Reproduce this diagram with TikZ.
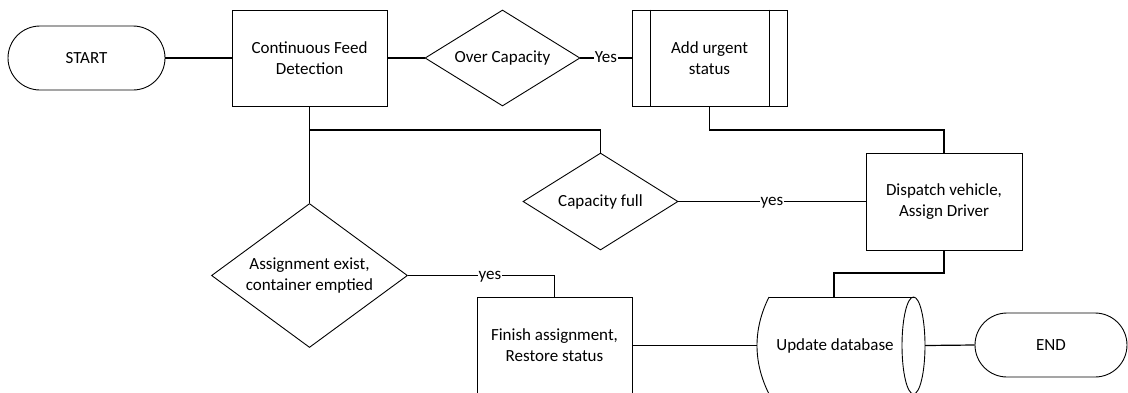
\documentclass[tikz,border=0pt]{standalone}
\usepackage{fontspec}
\setmainfont{Carlito}
\usetikzlibrary{shapes.geometric}
\begin{document}
\begin{tikzpicture}[x=1pt,y=-1pt,
  every node/.style={font=\fontsize{17}{21}\selectfont, align=center, inner sep=0pt},
  shapeline/.style={draw=black, line width=0.9pt},
  boxnode/.style={shapeline, rectangle, minimum width=155pt, minimum height=96pt},
  decision/.style={shapeline, diamond, minimum width=155pt, minimum height=96pt, aspect=1.6},
  terminal/.style={shapeline, rectangle, rounded corners=32pt, minimum width=157pt, minimum height=64pt},
  conn/.style={draw=black, line width=1.2pt},
  lbl/.style={fill=white, inner xsep=1pt, inner ysep=0pt, text height=8pt, text depth=0pt}]
\useasboundingbox (0,0) rectangle (1128,392);
% nodes
\node[terminal] (start) at (86.5,58) {START};
\node[boxnode] (cfd) at (309.5,58) {Continuous Feed\\Detection};
\node[decision] (over) at (502.5,58) {Over Capacity};
\node[boxnode] (urgent) at (709.5,58) {Add urgent\\status};
\draw[shapeline] ([xshift=19pt]urgent.north west) -- ([xshift=19pt]urgent.south west);
\draw[shapeline] ([xshift=-18pt]urgent.north east) -- ([xshift=-18pt]urgent.south east);
\node[decision, minimum height=97pt] (capfull) at (600.5,201.5) {Capacity full};
\node[boxnode, minimum width=156pt, minimum height=97pt] (dispatch) at (944,201.5) {Dispatch vehicle,\\Assign Driver};
\node[decision, minimum width=196pt, minimum height=144pt, aspect=1.36] (assign) at (309.5,275.5) {Assignment exist,\\container emptied};
\node[boxnode, minimum height=97pt] (finish) at (554.5,345.5) {Finish assignment,\\Restore status};
\node[minimum width=168pt, minimum height=97pt] (db) at (841,345.5) {};
\draw[shapeline] (769,297) -- (913.5,297);
\draw[shapeline] (769,394) -- (913.5,394);
\draw[shapeline] (769,297) .. controls (753,329) and (753,362) .. (769,394);
\draw[shapeline] (913.5,345.5) ellipse [x radius=11.5pt, y radius=48.5pt];
\node (dbtext) at (835,345.5) {Update database};
\node[terminal, minimum width=152pt] (end) at (1051,345) {END};
% junction coordinates
\coordinate (j1) at (0,130);
\coordinate (j2) at (834,273);
% connectors
\draw[conn] (start.east) -- (cfd.west);
\draw[conn] (cfd.east) -- (over.west);
\draw[conn] (over.east) -- node[lbl] {Yes} (urgent.west);
\draw[conn] (urgent.south) |- (j1 -| dispatch.north) -- (dispatch.north);
\draw[conn] (cfd.south) -- (assign.north);
\draw[conn] (cfd.south |- j1) -| (capfull.north);
\draw[conn] (capfull.east) -- node[lbl] {yes} (dispatch.west);
\draw[conn] (assign.east) -| node[lbl, pos=0.28] {yes} (finish.north);
\draw[conn] (dispatch.south) |- (j2) -- (j2 |- db.north);
\draw[conn] (finish.east) -- (db.west);
\draw[conn] (db.east) -- (end.west);
\end{tikzpicture}
\end{document}
